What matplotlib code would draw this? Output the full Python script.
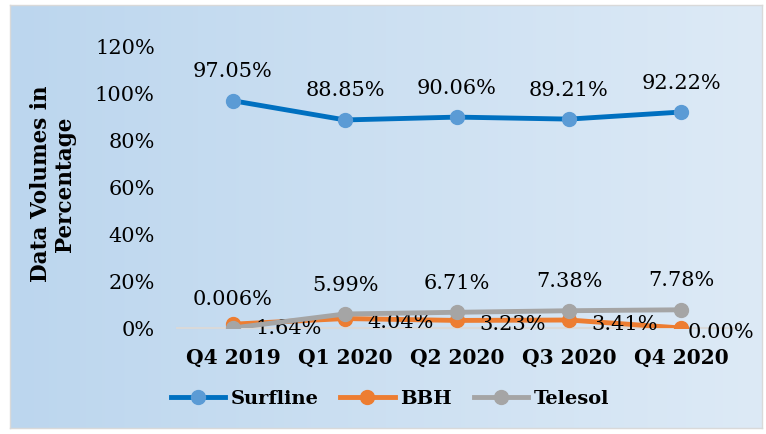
import numpy as np
import matplotlib
matplotlib.use("Agg")
import matplotlib.pyplot as plt

categories = ["Q4 2019", "Q1 2020", "Q2 2020", "Q3 2020", "Q4 2020"]
surfline = [97.05, 88.85, 90.06, 89.21, 92.22]
bbh = [1.64, 4.04, 3.23, 3.41, 0.00]
telesol = [0.006, 5.99, 6.71, 7.38, 7.78]
surfline_labels = ["97.05%", "88.85%", "90.06%", "89.21%", "92.22%"]
bbh_labels = ["1.64%", "4.04%", "3.23%", "3.41%", "0.00%"]
telesol_labels = ["0.006%", "5.99%", "6.71%", "7.38%", "7.78%"]
yticks = [0, 20, 40, 60, 80, 100, 120]

plt.rcParams['font.family'] = ['DejaVu Serif']

W, H = 766, 434
fig = plt.figure(figsize=(W/100, H/100), dpi=100)

# background gradient
bg = fig.add_axes([10/W, 1-428/H, 752/W, 423/H])
c1 = np.array([0xbc, 0xd6, 0xee]) / 255
c2 = np.array([0xdd, 0xea, 0xf6]) / 255
t = np.linspace(0, 1, 256)[None, :, None]
grad = c1 * (1 - t) + c2 * t
bg.imshow(grad, aspect='auto', extent=[0, 1, 0, 1])
bg.set_xlim(0, 1); bg.set_ylim(0, 1)
bg.set_xticks([]); bg.set_yticks([])
for s in bg.spines.values():
    s.set_color('#d9d9d9'); s.set_linewidth(1)
bg.set_zorder(0)

ax = fig.add_axes([177/W, 1-328/H, 560/W, 281/H])
ax.set_zorder(1)
ax.patch.set_alpha(0)
x = np.arange(len(categories))
ax.set_xlim(-0.5, len(categories) - 0.5)
ax.set_ylim(0, 120)
for s in ['top', 'right', 'left']:
    ax.spines[s].set_visible(False)
ax.spines['bottom'].set_color('#d9d9d9')
ax.spines['bottom'].set_linewidth(1.5)
ax.set_yticks(yticks)
ax.set_yticklabels([f"{v}%" for v in yticks], fontsize=15)
ax.set_xticks(x)
ax.set_xticklabels(categories, fontsize=14.5, fontweight='bold')
ax.tick_params(length=0)
ax.tick_params(axis='y', pad=16)
ax.tick_params(axis='x', pad=14)

ax.plot(x, surfline, color='#0070c0', lw=3.5, marker='o', ms=10,
        mfc='#5b9bd5', mec='#5b9bd5', label='Surfline', zorder=3)
ax.plot(x, bbh, color='#ed7d31', lw=3.5, marker='o', ms=10,
        mfc='#ed7d31', mec='#ed7d31', label='BBH', zorder=3)
ax.plot(x, telesol, color='#a5a5a5', lw=3.5, marker='o', ms=10,
        mfc='#a5a5a5', mec='#a5a5a5', label='Telesol', zorder=4)

for xi, v, l in zip(x, surfline, surfline_labels):
    ax.annotate(l, (xi, v), xytext=(0, 14), textcoords='offset points',
                ha='center', va='bottom', fontsize=15)
for xi, v, l in zip(x, telesol, telesol_labels):
    ax.annotate(l, (xi, v), xytext=(0, 14), textcoords='offset points',
                ha='center', va='bottom', fontsize=15)
for i, (xi, v, l) in enumerate(zip(x, bbh, bbh_labels)):
    dx = 16 if i < len(x) - 1 else 5
    ax.annotate(l, (xi, v), xytext=(dx, -3), textcoords='offset points',
                ha='left', va='center', fontsize=15)

fig.text(53/W, 1-184/H, "Data Volumes in\nPercentage", rotation=90,
         ha='center', va='center', fontsize=15.5, fontweight='bold',
         linespacing=1.1, multialignment='center')

leg = fig.legend(handles=ax.get_lines(), loc='center', ncol=3,
                 bbox_to_anchor=(390/W, 1-399/H), frameon=False,
                 prop={'size': 14, 'weight': 'bold'}, handlelength=2.8,
                 columnspacing=1.1, handletextpad=0.3)

fig.savefig("out.png", dpi=100)
